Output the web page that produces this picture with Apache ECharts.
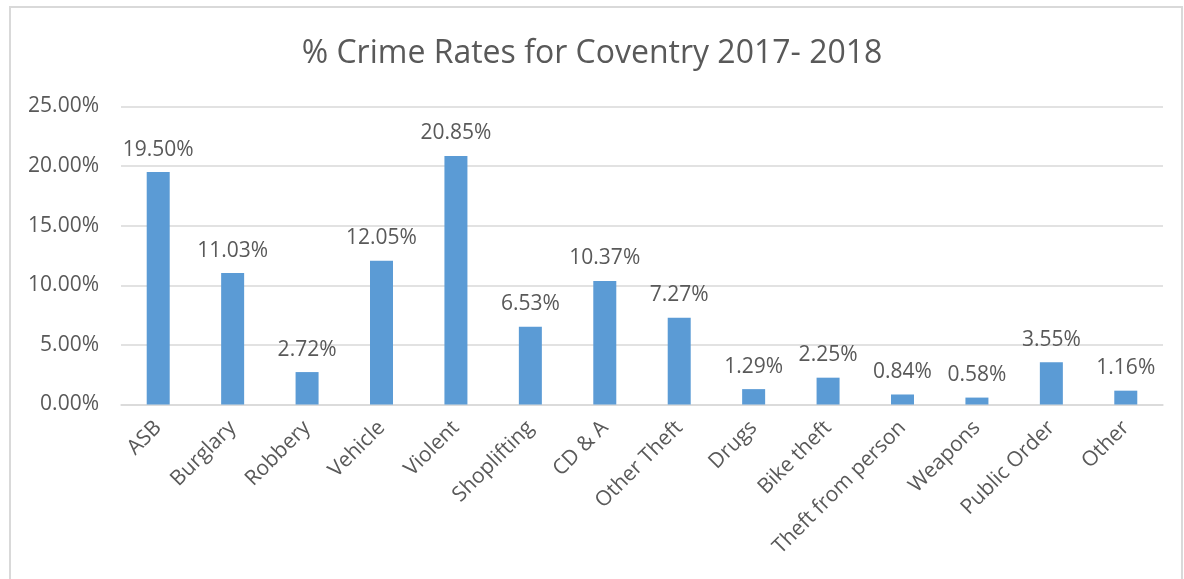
<!DOCTYPE html>
<html>
<head>
<meta charset="utf-8">
<script src="https://cdn.jsdelivr.net/npm/echarts@6/dist/echarts.min.js"></script>
<style>
  html, body { margin: 0; padding: 0; background: #fff; }
  #chart { width: 1184px; height: 579px; }
</style>
</head>
<body>
<div id="chart"></div>
<script>
// Crime categories and their share of all recorded crime (%)
const categories = ['ASB', 'Burglary', 'Robbery', 'Vehicle', 'Violent', 'Shoplifting', 'CD & A',
  'Other Theft', 'Drugs', 'Bike theft', 'Theft from person', 'Weapons', 'Public Order', 'Other'];
const crimeShare = [19.50, 11.03, 2.72, 12.05, 20.85, 6.53, 10.37, 7.27, 1.29, 2.25, 0.84, 0.58, 3.55, 1.16];
const yTicks = [0, 5, 10, 15, 20, 25];

const FONT = '"Open Sans", "Liberation Sans", sans-serif';
const TEXT = '#595959';
const GRID = '#d9d9d9';

const chart = echarts.init(document.getElementById('chart'), null, { renderer: 'canvas' });
chart.setOption({
  backgroundColor: '#ffffff',
  animation: false,
  title: {
    text: '% Crime Rates for Coventry 2017- 2018',
    left: 'center',
    top: 33,
    textStyle: { fontFamily: FONT, fontSize: 32, fontWeight: 'normal', color: TEXT }
  },
  graphic: [{
    type: 'rect',
    shape: { x: 10, y: 7, width: 1172, height: 620 },
    style: { fill: 'none', stroke: GRID, lineWidth: 2 },
    silent: true
  }],
  grid: { left: 121, right: 21, top: 106.5, bottom: 174.5, containLabel: false },
  xAxis: {
    type: 'category',
    data: categories,
    axisLine: { lineStyle: { color: GRID, width: 1.5 } },
    axisTick: { show: false },
    axisLabel: {
      interval: 0,
      rotate: 45,
      margin: 20,
      fontFamily: FONT,
      fontSize: 21,
      color: TEXT
    }
  },
  yAxis: {
    type: 'value',
    min: yTicks[0],
    max: yTicks[yTicks.length - 1],
    interval: 5,
    axisLine: { show: false },
    axisTick: { show: false },
    splitLine: { lineStyle: { color: GRID, width: 1.5 } },
    axisLabel: {
      margin: 22,
      fontFamily: FONT,
      fontSize: 21,
      color: TEXT,
      formatter: v => v.toFixed(2) + '%'
    }
  },
  series: [{
    type: 'bar',
    data: crimeShare,
    barWidth: 23,
    itemStyle: { color: '#5b9bd5' },
    label: {
      show: true,
      position: 'top',
      distance: 12,
      fontFamily: FONT,
      fontSize: 21,
      color: TEXT,
      formatter: p => p.value.toFixed(2) + '%'
    }
  }]
});
</script>
</body>
</html>
